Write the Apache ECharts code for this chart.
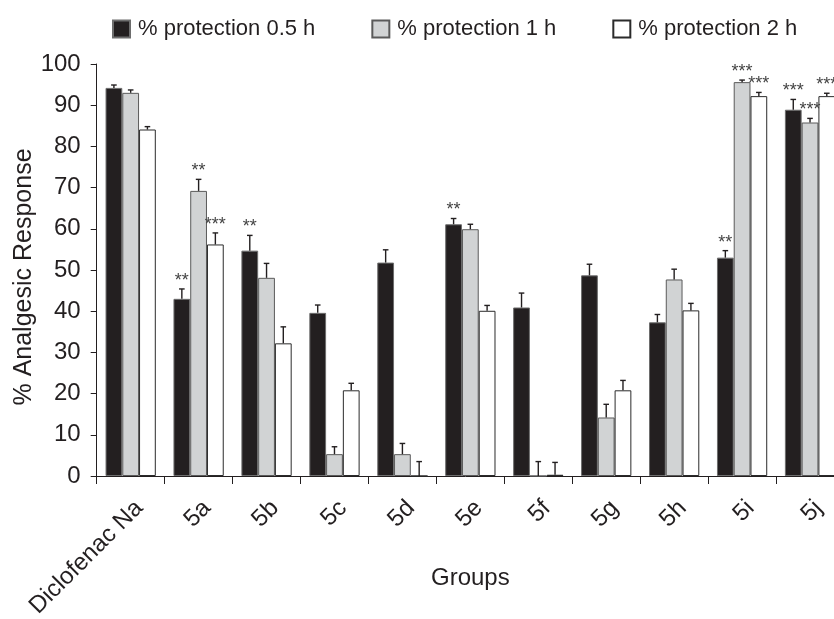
<!DOCTYPE html>
<html>
<head>
<meta charset="utf-8">
<script src="https://cdn.jsdelivr.net/npm/echarts@6/dist/echarts.min.js"></script>
<style>html,body{margin:0;padding:0;background:#fff}#c{width:834px;height:619px}</style>
</head>
<body>
<div id="c"></div>
<script>
const categories = ['Diclofenac Na','5a','5b','5c','5d','5e','5f','5g','5h','5i','5j'];
const seriesNames = ['% protection 0.5 h','% protection 1 h','% protection 2 h'];
const p05 = [94.2, 43.0, 54.7, 39.6, 51.8, 61.1, 40.9, 48.7, 37.3, 53.0, 88.9];
const p05Err = [0.7, 2.4, 3.7, 1.9, 3.1, 1.4, 3.5, 2.7, 1.9, 1.7, 2.5];
const p1 = [93.0, 69.2, 48.1, 5.3, 5.3, 59.9, 0, 14.2, 47.7, 95.6, 85.8];
const p1Err = [0.7, 2.8, 3.5, 1.8, 2.6, 1.2, 3.5, 3.2, 2.5, 0.5, 1.0];
const p2 = [84.1, 56.2, 32.2, 20.8, 0, 40.1, 0.3, 20.8, 40.2, 92.2, 92.2];
const p2Err = [0.7, 2.8, 4.0, 1.7, 3.5, 1.3, 3.0, 2.4, 1.7, 0.9, 0.7];
const p05Stars = ['', '**', '**', '', '', '**', '', '', '', '**', '***'];
const p1Stars = ['', '**', '', '', '', '', '', '', '', '***', '***'];
const p2Stars = ['', '***', '', '', '', '', '', '', '', '***', '***'];
const yTicks = [0,10,20,30,40,50,60,70,80,90,100];

const FONT = '"Liberation Sans", Arial, Helvetica, sans-serif';
const INK = '#231f20';
const CAT_GAP = 0.26;

const values = [p05, p1, p2];
const errs = [p05Err, p1Err, p2Err];
const stars = [p05Stars, p1Stars, p2Stars];
const fills = ['#231f20', '#d1d3d4', '#ffffff'];
const borders = ['#6d6d6d', '#5a5a5a', '#2b2b2b'];

function errRenderer(k) {
  return function (params, api) {
    const i = api.value(0), v = api.value(1), e = api.value(2);
    const band = api.size([1, 0])[0];
    const bw = band * (1 - CAT_GAP) / 3;
    const base = api.coord([i, v]);
    const top = api.coord([i, v + e]);
    const cx = base[0] + (k - 1) * bw;
    const cap = 2.8;
    const children = [
      { type: 'line', shape: { x1: cx, y1: base[1], x2: cx, y2: top[1] }, style: { stroke: INK, lineWidth: 1.4 } },
      { type: 'line', shape: { x1: cx - cap, y1: top[1], x2: cx + cap, y2: top[1] }, style: { stroke: INK, lineWidth: 1.4 } }
    ];
    const s = stars[k][params.dataIndex];
    if (s) {
      children.push({ type: 'text', style: { text: s, x: cx, y: top[1] - 8, align: 'center', verticalAlign: 'middle', fontSize: 18, fontFamily: FONT, fill: '#444' } });
    }
    return { type: 'group', children };
  };
}

const series = [];
for (let k = 0; k < 3; k++) {
  series.push({
    name: seriesNames[k],
    type: 'bar',
    data: values[k],
    barGap: '0%',
    barCategoryGap: (CAT_GAP * 100) + '%',
    itemStyle: { color: fills[k], borderColor: borders[k], borderWidth: 1 },
    emphasis: { disabled: true },
    z: 2
  });
}
for (let k = 0; k < 3; k++) {
  series.push({
    type: 'custom',
    renderItem: errRenderer(k),
    data: values[k].map((v, i) => [i, v, errs[k][i]]),
    encode: { x: 0, y: 1 },
    clip: false,
    silent: true,
    z: 5
  });
}

const chart = echarts.init(document.getElementById('c'), null, { renderer: 'canvas' });
chart.setOption({
  animation: false,
  backgroundColor: '#fff',
  legend: {
    data: seriesNames,
    left: 112, top: 18, padding: 0,
    itemWidth: 17, itemHeight: 17, itemGap: 56,
    icon: 'rect',
    textStyle: { fontSize: 22, fontFamily: FONT, color: INK, padding: [0, 0, 0, 3] },
    selectedMode: false
  },
  grid: { left: 96.7, right: -10, top: 64, bottom: 143, containLabel: false, outerBoundsMode: 'none' },
  xAxis: {
    type: 'category',
    data: categories,
    name: 'Groups',
    nameLocation: 'middle',
    nameGap: 90,
    nameMoveOverlap: false,
    nameTextStyle: { fontSize: 24, fontFamily: FONT, color: INK },
    axisLine: { lineStyle: { color: INK, width: 1 } },
    axisTick: { show: true, length: 8, lineStyle: { color: INK } },
    axisLabel: { rotate: 45, interval: 0, fontSize: 24, fontFamily: FONT, color: INK, margin: 20, align: 'right', verticalAlign: 'top' }
  },
  yAxis: {
    type: 'value',
    min: yTicks[0], max: yTicks[yTicks.length - 1], interval: 10,
    name: '% Analgesic Response',
    nameLocation: 'middle',
    nameGap: 60,
    nameMoveOverlap: false,
    nameTextStyle: { fontSize: 25, fontFamily: FONT, color: INK, padding: [0, 14, 0, 0] },
    axisLine: { show: true, lineStyle: { color: INK, width: 1 } },
    axisTick: { show: true, length: 6, lineStyle: { color: INK } },
    splitLine: { show: false },
    axisLabel: { fontSize: 24, fontFamily: FONT, color: INK, margin: 16 }
  },
  series
});
</script>
</body>
</html>
